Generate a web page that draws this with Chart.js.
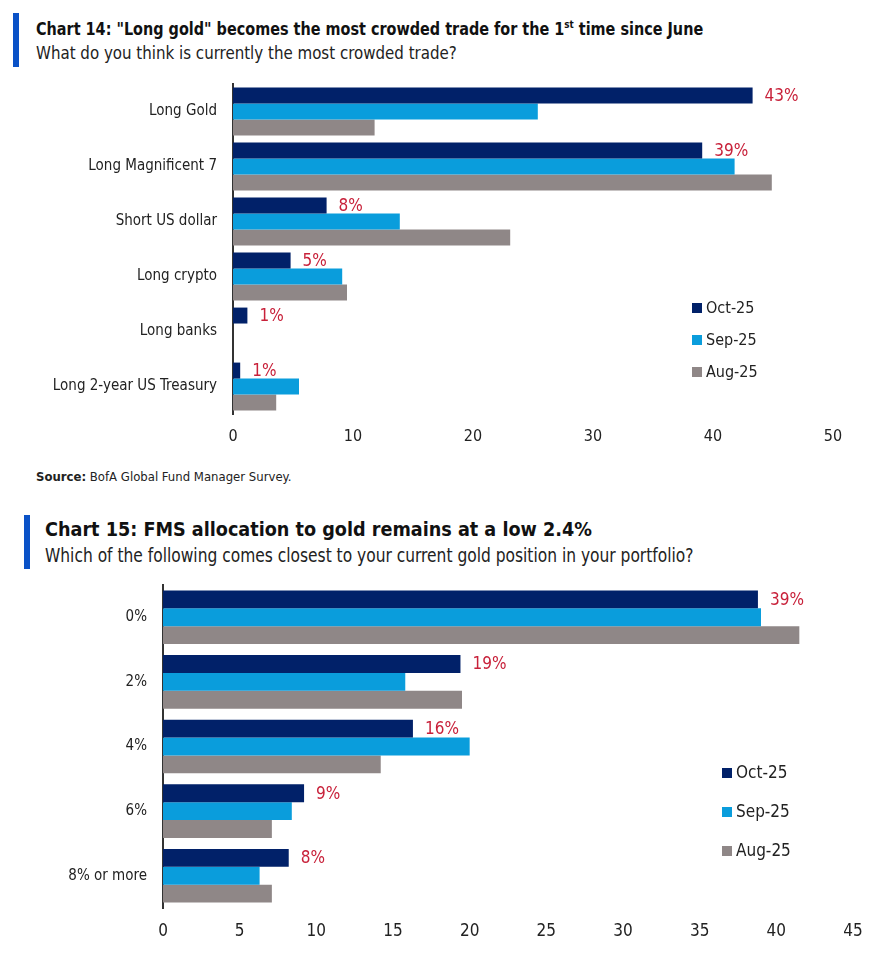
<!DOCTYPE html>
<html>
<head>
<meta charset="utf-8">
<script src="https://cdn.jsdelivr.net/npm/chart.js@4.4.1/dist/chart.umd.min.js"></script>
<style>
  body { margin: 0; background: #fff; width: 882px; height: 972px; position: relative; overflow: hidden;
         font-family: "DejaVu Sans Condensed", "DejaVu Sans", sans-serif; color: #111; }
  .bar { position: absolute; width: 6px; background: #0a52c7; }
  .title { position: absolute; font-weight: bold; color: #111; white-space: nowrap; transform-origin: left center; }
  .sub { position: absolute; color: #222; white-space: nowrap; transform-origin: left center; }
  .source { position: absolute; left: 36px; top: 469px; font-size: 13px; color: #222; }
  canvas { position: absolute; left: 0; }
  .legend { position: absolute; color: #222; }
  .legend div { line-height: 20px; white-space: nowrap; }
  .legend span.sw { display: inline-block; width: 10px; height: 10px; margin-right: 4px; vertical-align: 0px; }
</style>
</head>
<body>
<div class="bar" style="left:13px;top:13px;height:54px"></div>
<div class="title" style="left:36px;top:18px;font-size:18px;transform:scaleX(0.89)">Chart 14: "Long gold" becomes the most crowded trade for the 1<sup style="font-size:11px">st</sup> time since June</div>
<div class="sub" style="left:36px;top:42px;font-size:18px;transform:scaleX(0.93)">What do you think is currently the most crowded trade?</div>
<canvas id="chart14" width="882" height="374" style="top:80px"></canvas>
<div class="legend" id="legend14" style="left:692px;top:298px;font-size:16px"></div>
<div class="source"><b>Source:</b> BofA Global Fund Manager Survey.</div>

<div class="bar" style="left:24px;top:515px;height:54px"></div>
<div class="title" style="left:45px;top:517px;font-size:20px;transform:scaleX(0.98)">Chart 15: FMS allocation to gold remains at a low 2.4%</div>
<div class="sub" style="left:45px;top:544px;font-size:19px;transform:scaleX(0.905)">Which of the following comes closest to your current gold position in your portfolio?</div>
<canvas id="chart15" width="882" height="368" style="top:580px"></canvas>
<div class="legend" id="legend15" style="left:722px;top:762px;font-size:17px"></div>

<script>
// series names + colours (shared by both charts)
const seriesNames = ["Oct-25", "Sep-25", "Aug-25"];
const seriesColors = ["#012169", "#0a9ddc", "#8f8787"];

// Chart 14 - most crowded trade (% of respondents)
const trades = ["Long Gold", "Long Magnificent 7", "Short US dollar", "Long crypto", "Long banks", "Long 2-year US Treasury"];
const tradesOct = [43.3, 39.1, 7.8, 4.8, 1.2, 0.6];
const tradesSep = [25.4, 41.8, 13.9, 9.1, 0, 5.5];
const tradesAug = [11.8, 44.9, 23.1, 9.5, 0, 3.6];
const tradesLabels = ["43%", "39%", "8%", "5%", "1%", "1%"];
const tradesTicks = [0, 10, 20, 30, 40, 50];

// Chart 15 - gold position in portfolio
const goldPos = ["0%", "2%", "4%", "6%", "8% or more"];
const goldOct = [38.8, 19.4, 16.3, 9.2, 8.2];
const goldSep = [39.0, 15.8, 20.0, 8.4, 6.3];
const goldAug = [41.5, 19.5, 14.2, 7.1, 7.1];
const goldLabels = ["39%", "19%", "16%", "9%", "8%"];
const goldTicks = [0, 5, 10, 15, 20, 25, 30, 35, 40, 45];

const fontFam = '"DejaVu Sans Condensed", "DejaVu Sans", sans-serif';

// draws the red % label after the Oct bar
const valueLabels = {
  id: "valueLabels",
  afterDatasetsDraw(chart, args, opts) {
    const ctx = chart.ctx;
    const meta = chart.getDatasetMeta(0);
    ctx.save();
    ctx.fillStyle = "#c8213a";
    ctx.font = opts.size + "px " + fontFam;
    ctx.textBaseline = "middle";
    ctx.textAlign = "left";
    meta.data.forEach(function (bar, i) {
      ctx.fillText(opts.labels[i], bar.x + 12, bar.y + 1);
    });
    ctx.restore();
  }
};

function makeChart(id, cats, values, labels, ticks, cfg) {
  let ctx = document.getElementById(id);
  let datasets = [];
  for (let i = 0; i < values.length; i++) {
    datasets.push({
      label: seriesNames[i],
      data: values[i],
      backgroundColor: seriesColors[i],
      borderWidth: 0,
      barPercentage: 1,
      categoryPercentage: cfg.catPct
    });
  }
  return new Chart(ctx, {
    type: "bar",
    data: { labels: cats, datasets: datasets },
    options: {
      indexAxis: "y",
      responsive: false,
      animation: false,
      layout: { padding: { top: cfg.padTop, right: cfg.padRight, left: 0, bottom: 0 } },
      plugins: {
        legend: { display: false },
        tooltip: { enabled: false },
        valueLabels: { labels: labels, size: cfg.labelSize }
      },
      scales: {
        x: {
          min: ticks[0],
          max: ticks[ticks.length - 1],
          afterBuildTicks: function (scale) {
            scale.ticks = ticks.map(function (v) { return { value: v }; });
          },
          afterFit: function (scale) { scale.height = cfg.xHeight; },
          grid: { display: false, drawTicks: false },
          border: { display: false },
          ticks: { color: "#222", font: { family: fontFam, size: cfg.xFont }, padding: cfg.tickPad, maxRotation: 0 }
        },
        y: {
          afterFit: function (scale) {
            scale.width = cfg.yWidth;
            // don't let label padding push the plot area down
            scale.paddingTop = 0;
            scale.paddingBottom = 0;
          },
          grid: { display: false, drawTicks: false },
          border: { display: true, color: "#333", width: 2 },
          ticks: { color: "#222", font: { family: fontFam, size: cfg.yFont }, padding: cfg.yPad }
        }
      }
    },
    plugins: [valueLabels]
  });
}

function makeLegend(id, rowH) {
  let el = document.getElementById(id);
  let html = "";
  for (let i = 0; i < seriesNames.length; i++) {
    html += '<div style="height:' + rowH + 'px"><span class="sw" style="background:' + seriesColors[i] + '"></span>' + seriesNames[i] + "</div>";
  }
  el.innerHTML = html;
}

makeChart("chart14", trades, [tradesOct, tradesSep, tradesAug], tradesLabels, tradesTicks,
  { catPct: 0.87, padTop: 4, padRight: 49, xHeight: 40, tickPad: 13, yWidth: 233, yPad: 16,
    xFont: 16, yFont: 15, labelSize: 17 });
makeChart("chart15", goldPos, [goldOct, goldSep, goldAug], goldLabels, goldTicks,
  { catPct: 0.83, padTop: 5, padRight: 29, xHeight: 40, tickPad: 13, yWidth: 163, yPad: 16,
    xFont: 17, yFont: 15, labelSize: 17 });
makeLegend("legend14", 32);
makeLegend("legend15", 39);
</script>
</body>
</html>
